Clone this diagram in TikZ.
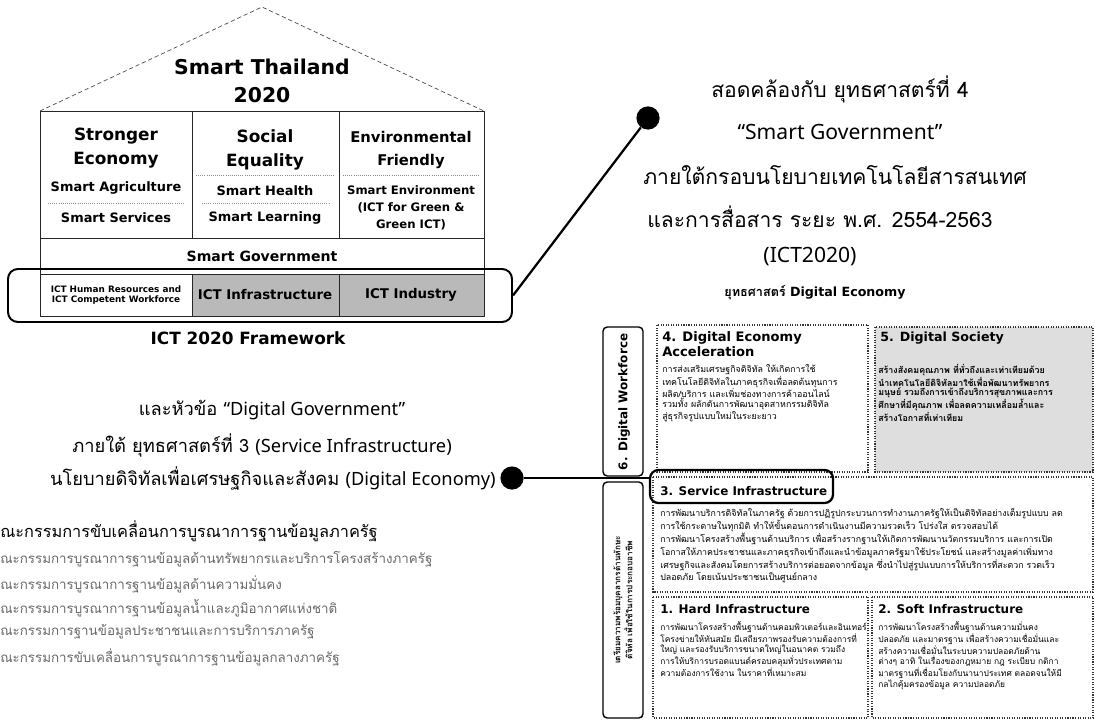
\documentclass[tikz,border=0pt]{standalone}
\usepackage{fontspec}
\setmainfont{Noto Sans}
\newfontfamily\thai[Script=Thai]{Loma}
\newfontfamily\heavy{DejaVu Sans}
\usetikzlibrary{positioning,fit}
\definecolor{ScanGray}{RGB}{185,185,185}
\definecolor{PaleGray}{RGB}{222,222,222}
\definecolor{ListGray}{RGB}{105,105,105}
\tikzset{
  roof/.style={draw=black!70,densely dashed,line width=0.5pt},
  hcell/.style={draw=black!85,line width=0.7pt},
  hsep/.style={draw=black!45,densely dotted,line width=0.5pt},
  htitle/.style={font=\heavy\bfseries\fontsize{12}{17.5}\selectfont,align=center,inner sep=0pt},
  hitem/.style={font=\heavy\bfseries\fontsize{9.2}{12}\selectfont,align=center,inner sep=0pt},
  frame/.style={draw=black,line width=1.4pt,rounded corners=7pt,inner sep=0pt},
  dot/.style={circle,fill=black,inner sep=0pt,minimum size=0.58cm},
  link/.style={draw=black,line width=1.6pt},
}
\tikzset{bigthai/.style={font=\thai\fontsize{15}{17}\selectfont,inner sep=0pt}, midthai/.style={font=\thai\fontsize{13}{15}\selectfont,inner sep=0pt}, listhead/.style={font=\thai\fontsize{11.6}{14}\selectfont,anchor=west,inner sep=0pt}, listitem/.style={font=\thai\fontsize{9.5}{11}\selectfont,text=ListGray,anchor=west,inner sep=0pt}}
\tikzset{panel/.style={draw=black!80,densely dotted,line width=0.8pt}, strip/.style={draw=black,line width=1pt,rounded corners=3pt}, ptitle/.style={font=\heavy\bfseries\fontsize{8.5}{10.6}\selectfont,anchor=north west,inner sep=0pt,align=left}, pbody/.style={font=\thai\fontsize{6.3}{6.8}\selectfont,anchor=north west,inner sep=0pt,align=left}}

\begin{document}
\begin{tikzpicture}[x=0.025cm,y=-0.025cm]
\useasboundingbox (0,0) rectangle (1095,721);
% house of ICT 2020
\draw[roof] (40,111) -- (262,7) -- (484,111);
\draw[hcell] (40,111) rectangle (192,238);
\draw[hcell] (192,111) rectangle (339,238);
\draw[hcell] (339,111) rectangle (484,238);
\draw[hcell] (40,238) rectangle (484,274);
\draw[hcell] (40,274) rectangle (192,316);
\draw[hcell,fill=ScanGray] (192,274) rectangle (339,316);
\draw[hcell,fill=ScanGray] (339,274) rectangle (484,316);
\draw[hsep] (48,203) -- (184,203);
\draw[hsep] (196,175) -- (335,175);
\draw[hsep] (202,203) -- (330,203);
\draw[hsep] (343,175) -- (480,175);
\node[htitle,font=\heavy\bfseries\fontsize{14.5}{20}\selectfont] (thailand) at (262,81) {Smart Thailand\\2020};
\node[htitle] (econ) at (116,148) {Stronger\\Economy};
\node[hitem] (agri) at (116,188) {Smart Agriculture};
\node[hitem] (serv) at (116,218) {Smart Services};
\node[htitle] (social) at (265,150) {Social\\Equality};
\node[hitem] (health) at (265,191) {Smart Health};
\node[hitem] (learn) at (265,218) {Smart Learning};
\node[htitle,font=\heavy\bfseries\fontsize{10.5}{17}\selectfont] (envi) at (411,150) {Environmental\\Friendly};
\node[hitem,font=\heavy\bfseries\fontsize{8.3}{12}\selectfont] (green) at (411,208) {Smart Environment\\(ICT for Green \&\\Green ICT)};
\node[hitem,font=\heavy\bfseries\fontsize{10}{12}\selectfont] (sgov) at (262,256) {Smart Government};
\node[hitem,font=\heavy\bfseries\fontsize{6.3}{7.5}\selectfont] (hr) at (116,295) {ICT Human Resources and\\ICT Competent Workforce};
\node[hitem,font=\heavy\bfseries\fontsize{9.5}{11}\selectfont] (infra) at (265,295) {ICT Infrastructure};
\node[hitem,font=\heavy\bfseries\fontsize{9.5}{11}\selectfont] (indus) at (411,295) {ICT Industry};
\coordinate (fa) at (8,269);
\coordinate (fb) at (512,322);
\node[frame,fit=(fa)(fb)] (ictframe) {};
\node[font=\heavy\bfseries\fontsize{12}{13}\selectfont,inner sep=0pt] (ictcap) at (248,338) {ICT 2020 Framework};
% strategy 4 text
\node[bigthai] (gov1) at (840,89) {สอดคล้องกับ ยุทธศาสตร์ที่ 4};
\node[bigthai,font=\rmfamily\fontsize{15}{17}\selectfont] (gov2) at (840,132) {“Smart Government”};
\node[bigthai] (gov3) at (835,175) {ภายใต้กรอบนโยบายเทคโนโลยีสารสนเทศ};
\node[bigthai] (gov4) at (820,217) {และการสื่อสาร ระยะ พ.ศ. 2554-2563};
\node[bigthai,font=\rmfamily\fontsize{15}{17}\selectfont] (gov5) at (810,257) {(ICT2020)};
\node[font=\thai\bfseries\fontsize{9}{11}\selectfont,inner sep=0pt] (gov6) at (815,293) {ยุทธศาสตร์ {\heavy\bfseries Digital Economy}};
\node[dot] (dotA) at (648,118) {};
\draw[link] (dotA) -- (ictframe.east);
% strategy 3 text
\node[midthai] (dg1) at (272,410) {และหัวข้อ {\rmfamily “Digital Government”}};
\node[midthai] (dg2) at (262,445) {ภายใต้ ยุทธศาสตร์ที่ 3 {\rmfamily (Service Infrastructure)}};
\node[midthai,anchor=east] (dg3) at (496,478) {นโยบายดิจิทัลเพื่อเศรษฐกิจและสังคม {\rmfamily (Digital Economy)}};
\node[dot] (dotB) at (512,478) {};
% committees
\node[listhead] (cm0) at (0,531) {ณะกรรมการขับเคลื่อนการบูรณาการฐานข้อมูลภาครัฐ};
\node[listitem] (cm1) at (0,559) {ณะกรรมการบูรณาการฐานข้อมูลด้านทรัพยากรและบริการโครงสร้างภาครัฐ};
\node[listitem] (cm2) at (0,584) {ณะกรรมการบูรณาการฐานข้อมูลด้านความมั่นคง};
\node[listitem] (cm3) at (0,608) {ณะกรรมการบูรณาการฐานข้อมูลน้ำและภูมิอากาศแห่งชาติ};
\node[listitem] (cm4) at (0,632) {ณะกรรมการฐานข้อมูลประชาชนและการบริการภาครัฐ};
\node[listitem] (cm5) at (0,657) {ณะกรรมการขับเคลื่อนการบูรณาการฐานข้อมูลกลางภาครัฐ};
% digital economy panel
\draw[strip] (603,327) rectangle (643,476);
\draw[strip] (603,482) rectangle (643,718);
\node[font=\heavy\bfseries\fontsize{8.5}{10}\selectfont,rotate=90,inner sep=0pt] (dwf) at (624,402) {6. Digital Workforce};
\node[font=\thai\bfseries\fontsize{5.8}{7.4}\selectfont,rotate=90,align=center,inner sep=0pt] (dwfnote) at (623,600) {เตรียมความพร้อมบุคลากรด้านทักษะ\\ดิจิทัล เพื่อใช้ในการประกอบอาชีพ};
\draw[panel] (657,325) rectangle (868,472);
\draw[panel,fill=PaleGray] (875,327) rectangle (1093,472);
\draw[panel] (653,477) rectangle (1093,592);
\draw[panel] (653,597) rectangle (868,718);
\draw[panel] (872,597) rectangle (1093,718);
\node[ptitle,font=\heavy\bfseries\fontsize{9.3}{10.8}\selectfont] (s4) at (662,331) {4. Digital Economy\\Acceleration};
\node[pbody] (s4txt) at (662,364) {การส่งเสริมเศรษฐกิจดิจิทัล ให้เกิดการใช้\\เทคโนโลยีดิจิทัลในภาคธุรกิจเพื่อลดต้นทุนการ\\ผลิต/บริการ และเพิ่มช่องทางการค้าออนไลน์\\รวมทั้ง ผลักดันการพัฒนาอุตสาหกรรมดิจิทัล\\สู่ธุรกิจรูปแบบใหม่ในระยะยาว};
\node[ptitle,font=\heavy\bfseries\fontsize{9}{10.6}\selectfont] (s5) at (880,332) {5. Digital Society};
\node[pbody,font=\thai\bfseries\fontsize{6.3}{6.8}\selectfont] (s5txt) at (878,364) {สร้างสังคมคุณภาพ ที่ทั่วถึงและเท่าเทียมด้วย\\นำเทคโนโลยีดิจิทัลมาใช้เพื่อพัฒนาทรัพยากร\\มนุษย์ รวมถึงการเข้าถึงบริการสุขภาพและการ\\ศึกษาที่มีคุณภาพ เพื่อลดความเหลื่อมล้ำและ\\สร้างโอกาสที่เท่าเทียม};
\node[ptitle] (s3) at (660,486) {3. Service Infrastructure};
\node[pbody] (s3txt) at (660,508) {การพัฒนาบริการดิจิทัลในภาครัฐ ด้วยการปฏิรูปกระบวนการทำงานภาครัฐให้เป็นดิจิทัลอย่างเต็มรูปแบบ ลด\\การใช้กระดาษในทุกมิติ ทำให้ขั้นตอนการดำเนินงานมีความรวดเร็ว โปร่งใส ตรวจสอบได้\\การพัฒนาโครงสร้างพื้นฐานด้านบริการ เพื่อสร้างรากฐานให้เกิดการพัฒนานวัตกรรมบริการ และการเปิด\\โอกาสให้ภาคประชาชนและภาคธุรกิจเข้าถึงและนำข้อมูลภาครัฐมาใช้ประโยชน์ และสร้างมูลค่าเพิ่มทาง\\เศรษฐกิจและสังคมโดยการสร้างบริการต่อยอดจากข้อมูล ซึ่งนำไปสู่รูปแบบการให้บริการที่สะดวก รวดเร็ว\\ปลอดภัย โดยเน้นประชาชนเป็นศูนย์กลาง};
\coordinate (sa) at (650,470);
\coordinate (sb) at (833,503);
\node[frame,line width=1.6pt,rounded corners=6pt,fit=(sa)(sb)] (svcframe) {};
\draw[link] (dotB) -- (dotB -| svcframe.west);
\node[ptitle] (s1) at (660,604) {1. Hard Infrastructure};
\node[pbody,font=\thai\fontsize{6}{6.8}\selectfont] (s1txt) at (660,621) {การพัฒนาโครงสร้างพื้นฐานด้านคอมพิวเตอร์และอินเทอร์\\โครงข่ายให้ทันสมัย มีเสถียรภาพรองรับความต้องการที่\\ใหญ่ และรองรับบริการขนาดใหญ่ในอนาคต รวมถึง\\การให้บริการบรอดแบนด์ครอบคลุมทั่วประเทศตาม\\ความต้องการใช้งาน ในราคาที่เหมาะสม};
\node[ptitle] (s2) at (878,604) {2. Soft Infrastructure};
\node[pbody,font=\thai\fontsize{6}{6.8}\selectfont] (s2txt) at (878,621) {การพัฒนาโครงสร้างพื้นฐานด้านความมั่นคง\\ปลอดภัย และมาตรฐาน เพื่อสร้างความเชื่อมั่นและ\\สร้างความเชื่อมั่นในระบบความปลอดภัยด้าน\\ต่างๆ อาทิ ในเรื่องของกฎหมาย กฎ ระเบียบ กติกา\\มาตรฐานที่เชื่อมโยงกับนานาประเทศ ตลอดจนให้มี\\กลไกคุ้มครองข้อมูล ความปลอดภัย};
\end{tikzpicture}
\end{document}
